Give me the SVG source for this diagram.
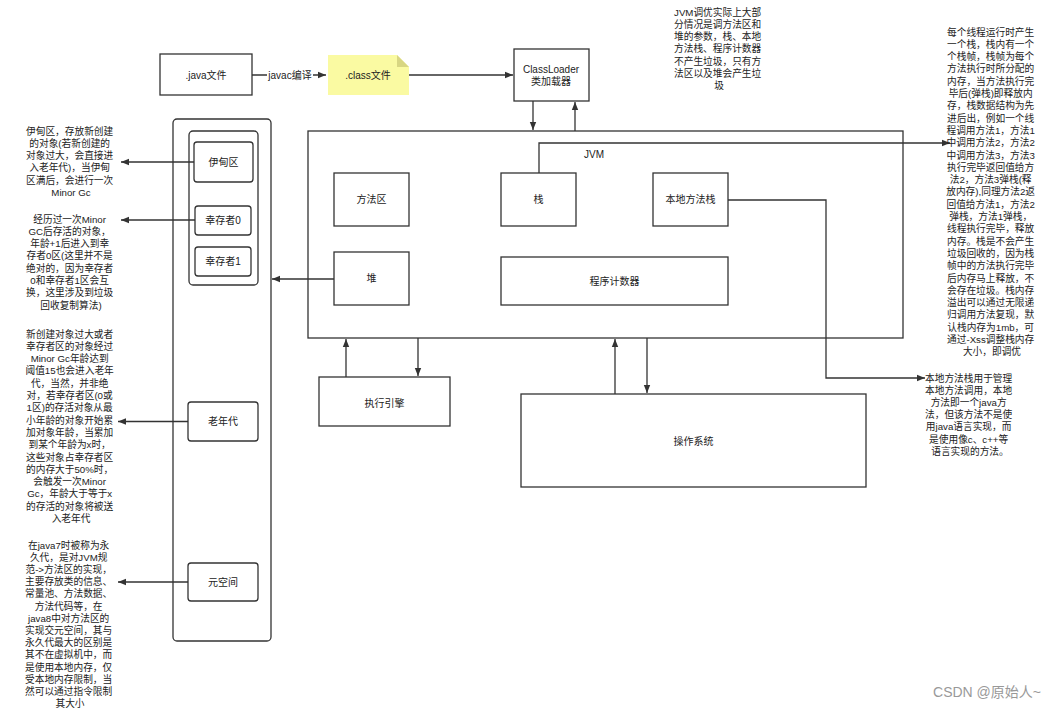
<svg xmlns="http://www.w3.org/2000/svg" width="1059" height="710" viewBox="0 0 1059 710">
<style>
  text { font-family: "Liberation Sans", "Noto Sans CJK SC", sans-serif; fill: #222; }
  .lbl { font-size: 10px; text-anchor: middle; dominant-baseline: central; }
  .note { font-size: 9.7px; text-anchor: middle; }
  .box { fill: #fff; stroke: #333; stroke-width: 1.3; }
  .edge { fill: none; stroke: #333; stroke-width: 1.3; }
  .wm { font-size: 14px; fill: #999; text-anchor: middle; }
</style>
<defs>
  <marker id="arr" viewBox="0 0 10 10" refX="10" refY="5" markerWidth="8" markerHeight="8" markerUnits="userSpaceOnUse" orient="auto">
    <path d="M0,1 L10,5 L0,9 Z" fill="#333"/>
  </marker>
</defs>
<rect width="1059" height="710" fill="#fff"/>

<g id="java-file">
  <rect class="box" x="160" y="54" width="92" height="41"/>
  <text class="lbl" x="206" y="75">.java文件</text>
</g>
<g id="class-file">
  <path d="M328,55 H397 L409,67 V95 H328 Z" fill="#fafaa2" stroke="none"/>
  <path d="M397,55 V67 H409 Z" fill="#d8d682"/>
  <text class="lbl" x="368" y="75">.class文件</text>
</g>
<g id="classloader">
  <rect class="box" x="514" y="49" width="75" height="52"/>
  <text class="lbl" x="551" y="69">ClassLoader</text>
  <text class="lbl" x="551" y="81">类加载器</text>
</g>

<g id="heap-container">
  <rect class="box" x="173" y="119" width="98" height="522" rx="4"/>
  <rect class="box" x="189" y="131" width="69" height="154" rx="4"/>
</g>
<g id="eden">
  <rect class="box" x="194" y="142" width="59" height="40" rx="3"/>
  <text class="lbl" x="223.5" y="162">伊甸区</text>
</g>
<g id="survivor0">
  <rect class="box" x="195" y="206" width="56" height="29" rx="3"/>
  <text class="lbl" x="223" y="220.5">幸存者0</text>
</g>
<g id="survivor1">
  <rect class="box" x="195" y="247" width="56" height="29" rx="3"/>
  <text class="lbl" x="223" y="261.5">幸存者1</text>
</g>
<g id="old-gen">
  <rect class="box" x="188" y="402" width="70" height="39" rx="3"/>
  <text class="lbl" x="223" y="421.5">老年代</text>
</g>
<g id="metaspace">
  <rect class="box" x="188" y="563" width="70" height="38" rx="3"/>
  <text class="lbl" x="223" y="582">元空间</text>
</g>

<g id="jvm">
  <rect class="box" x="308" y="131" width="595" height="207"/>
  <text class="lbl" x="594" y="154">JVM</text>
</g>
<g id="method-area">
  <rect class="box" x="334" y="173" width="75" height="53"/>
  <text class="lbl" x="371.5" y="199.5">方法区</text>
</g>
<g id="stack">
  <rect class="box" x="501" y="173" width="75" height="53"/>
  <text class="lbl" x="538.5" y="199.5">栈</text>
</g>
<g id="native-stack">
  <rect class="box" x="653" y="173" width="75" height="53"/>
  <text class="lbl" x="690.5" y="199.5">本地方法栈</text>
</g>
<g id="heap">
  <rect class="box" x="334" y="252" width="75" height="53"/>
  <text class="lbl" x="371.5" y="278.5">堆</text>
</g>
<g id="pc">
  <rect class="box" x="501" y="257" width="227" height="48"/>
  <text class="lbl" x="614.5" y="281">程序计数器</text>
</g>
<g id="exec-engine">
  <rect class="box" x="319" y="377" width="131" height="49"/>
  <text class="lbl" x="384.5" y="403">执行引擎</text>
</g>
<g id="os">
  <rect class="box" x="521" y="394" width="345" height="93"/>
  <text class="lbl" x="693.5" y="441">操作系统</text>
</g>

<g id="connectors">
  <path class="edge" d="M252,75 H326" marker-end="url(#arr)"/>
  <rect x="267" y="68" width="46" height="14" fill="#fff"/>
  <text class="lbl" x="290" y="75">javac编译</text>
  <path class="edge" d="M409,75 H513" marker-end="url(#arr)"/>
  <path class="edge" d="M533,101 V130" marker-end="url(#arr)"/>
  <path class="edge" d="M575,131 V102" marker-end="url(#arr)"/>
  <path class="edge" d="M334,279 H272" marker-end="url(#arr)"/>
  <path class="edge" d="M194,162 H121" marker-end="url(#arr)"/>
  <path class="edge" d="M195,220 H121" marker-end="url(#arr)"/>
  <path class="edge" d="M188,421.5 H118" marker-end="url(#arr)"/>
  <path class="edge" d="M188,582 H118" marker-end="url(#arr)"/>
  <path class="edge" d="M539,173 V143 H950" marker-end="url(#arr)"/>
  <path class="edge" d="M728,200 H826 V378 H925" marker-end="url(#arr)"/>
  <path class="edge" d="M346,377 V339" marker-end="url(#arr)"/>
  <path class="edge" d="M418,338 V376" marker-end="url(#arr)"/>
  <path class="edge" d="M615,394 V339" marker-end="url(#arr)"/>
  <path class="edge" d="M647,338 V393" marker-end="url(#arr)"/>
</g>

<g id="note-jvm-tuning">
  <text class="note" x="719" y="15.5">
    <tspan x="719" dy="0">JVM调优实际上大部</tspan>
    <tspan x="719" dy="12.3">分情况是调方法区和</tspan>
    <tspan x="719" dy="12.3">堆的参数，栈、本地</tspan>
    <tspan x="719" dy="12.3">方法栈、程序计数器</tspan>
    <tspan x="719" dy="12.3">不产生垃圾，只有方</tspan>
    <tspan x="719" dy="12.3">法区以及堆会产生垃</tspan>
    <tspan x="719" dy="12.3">圾</tspan>
  </text>
</g>

<g id="note-stack">
  <text class="note" x="992" y="35.5">
    <tspan x="992" dy="0">每个线程运行时产生</tspan>
    <tspan x="992" dy="12.3">一个栈，栈内有一个</tspan>
    <tspan x="992" dy="12.3">个栈帧，栈帧为每个</tspan>
    <tspan x="992" dy="12.3">方法执行时所分配的</tspan>
    <tspan x="992" dy="12.3">内存，当方法执行完</tspan>
    <tspan x="992" dy="12.3">毕后(弹栈)即释放内</tspan>
    <tspan x="992" dy="12.3">存，栈数据结构为先</tspan>
    <tspan x="992" dy="12.3">进后出，例如一个线</tspan>
    <tspan x="992" dy="12.3">程调用方法1，方法1</tspan>
    <tspan x="992" dy="12.3">中调用方法2，方法2</tspan>
    <tspan x="992" dy="12.3">中调用方法3，方法3</tspan>
    <tspan x="992" dy="12.3">执行完毕返回值给方</tspan>
    <tspan x="992" dy="12.3">法2，方法3弹栈(释</tspan>
    <tspan x="992" dy="12.3">放内存),同理方法2返</tspan>
    <tspan x="992" dy="12.3">回值给方法1，方法2</tspan>
    <tspan x="992" dy="12.3">弹栈，方法1弹栈，</tspan>
    <tspan x="992" dy="12.3">线程执行完毕，释放</tspan>
    <tspan x="992" dy="12.3">内存。栈是不会产生</tspan>
    <tspan x="992" dy="12.3">垃圾回收的，因为栈</tspan>
    <tspan x="992" dy="12.3">帧中的方法执行完毕</tspan>
    <tspan x="992" dy="12.3">后内存马上释放，不</tspan>
    <tspan x="992" dy="12.3">会存在垃圾。栈内存</tspan>
    <tspan x="992" dy="12.3">溢出可以通过无限递</tspan>
    <tspan x="992" dy="12.3">归调用方法复现，默</tspan>
    <tspan x="992" dy="12.3">认栈内存为1mb，可</tspan>
    <tspan x="992" dy="12.3">通过-Xss调整栈内存</tspan>
    <tspan x="992" dy="12.3">大小，即调优</tspan>
  </text>
</g>

<g id="note-native">
  <text class="note" x="970" y="381.5">
    <tspan x="970" dy="0">本地方法栈用于管理</tspan>
    <tspan x="970" dy="12.2">本地方法调用，本地</tspan>
    <tspan x="970" dy="12.2">方法即一个java方</tspan>
    <tspan x="970" dy="12.2">法，但该方法不是使</tspan>
    <tspan x="970" dy="12.2">用java语言实现，而</tspan>
    <tspan x="970" dy="12.2">是使用像c、c++等</tspan>
    <tspan x="970" dy="12.2">语言实现的方法。</tspan>
  </text>
</g>

<g id="note-eden">
  <text class="note" x="71" y="134.5">
    <tspan x="71" dy="0">伊甸区，存放新创建</tspan>
    <tspan x="71" dy="12.3">的对象(若新创建的</tspan>
    <tspan x="71" dy="12.3">对象过大，会直接进</tspan>
    <tspan x="71" dy="12.3">入老年代)，当伊甸</tspan>
    <tspan x="71" dy="12.3">区满后，会进行一次</tspan>
    <tspan x="71" dy="12.3">Minor Gc</tspan>
  </text>
</g>

<g id="note-survivor">
  <text class="note" x="71" y="222.5">
    <tspan x="71" dy="0">经历过一次Minor</tspan>
    <tspan x="71" dy="12.3">GC后存活的对象，</tspan>
    <tspan x="71" dy="12.3">年龄+1后进入到幸</tspan>
    <tspan x="71" dy="12.3">存者0区(这里并不是</tspan>
    <tspan x="71" dy="12.3">绝对的，因为幸存者</tspan>
    <tspan x="71" dy="12.3">0和幸存者1区会互</tspan>
    <tspan x="71" dy="12.3">换，这里涉及到垃圾</tspan>
    <tspan x="71" dy="12.3">回收复制算法)</tspan>
  </text>
</g>

<g id="note-old">
  <text class="note" x="71" y="337.5">
    <tspan x="71" dy="0">新创建对象过大或者</tspan>
    <tspan x="71" dy="12.3">幸存者区的对象经过</tspan>
    <tspan x="71" dy="12.3">Minor Gc年龄达到</tspan>
    <tspan x="71" dy="12.3">阈值15也会进入老年</tspan>
    <tspan x="71" dy="12.3">代，当然，并非绝</tspan>
    <tspan x="71" dy="12.3">对，若幸存者区(0或</tspan>
    <tspan x="71" dy="12.3">1区)的存活对象从最</tspan>
    <tspan x="71" dy="12.3">小年龄的对象开始累</tspan>
    <tspan x="71" dy="12.3">加对象年龄，当累加</tspan>
    <tspan x="71" dy="12.3">到某个年龄为x时，</tspan>
    <tspan x="71" dy="12.3">这些对象占幸存者区</tspan>
    <tspan x="71" dy="12.3">的内存大于50%时，</tspan>
    <tspan x="71" dy="12.3">会触发一次Minor</tspan>
    <tspan x="71" dy="12.3">Gc，年龄大于等于x</tspan>
    <tspan x="71" dy="12.3">的存活的对象将被送</tspan>
    <tspan x="71" dy="12.3">入老年代</tspan>
  </text>
</g>

<g id="note-meta">
  <text class="note" x="70" y="548.5">
    <tspan x="70" dy="0">在java7时被称为永</tspan>
    <tspan x="70" dy="12.2">久代，是对JVM规</tspan>
    <tspan x="70" dy="12.2">范-&gt;方法区的实现，</tspan>
    <tspan x="70" dy="12.2">主要存放类的信息、</tspan>
    <tspan x="70" dy="12.2">常量池、方法数据、</tspan>
    <tspan x="70" dy="12.2">方法代码等，在</tspan>
    <tspan x="70" dy="12.2">java8中对方法区的</tspan>
    <tspan x="70" dy="12.2">实现交元空间，其与</tspan>
    <tspan x="70" dy="12.2">永久代最大的区别是</tspan>
    <tspan x="70" dy="12.2">其不在虚拟机中，而</tspan>
    <tspan x="70" dy="12.2">是使用本地内存，仅</tspan>
    <tspan x="70" dy="12.2">受本地内存限制，当</tspan>
    <tspan x="70" dy="12.2">然可以通过指令限制</tspan>
    <tspan x="70" dy="12.2">其大小</tspan>
  </text>
</g>

<text class="wm" x="987" y="697">CSDN @原始人~</text>
</svg>
